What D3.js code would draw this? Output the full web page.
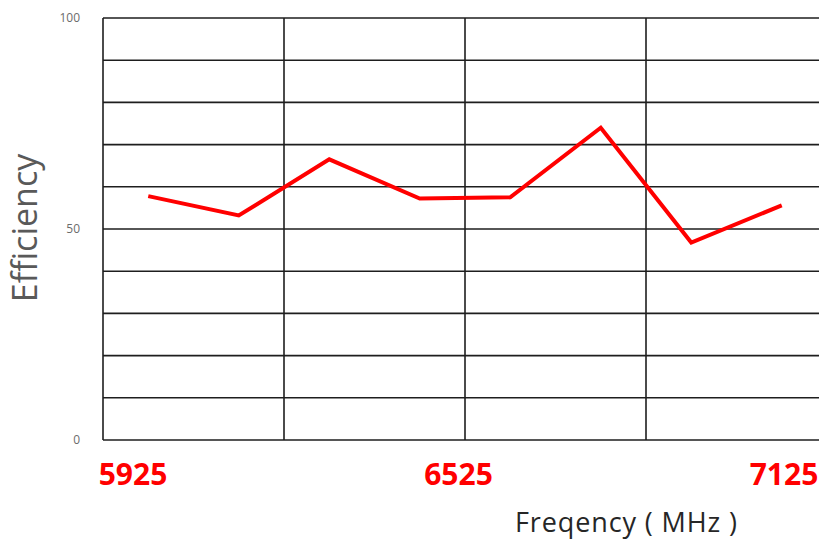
<!DOCTYPE html>
<html>
<head>
<meta charset="utf-8">
<script src="https://cdn.jsdelivr.net/npm/d3@7"></script>
<style>
  html, body { margin: 0; padding: 0; background: #fff; overflow: hidden; }
  svg { display: block; }
</style>
</head>
<body>
<svg id="chart" width="819" height="540"></svg>
<script>
// ---- data ----
const pointIndex = [1, 2, 3, 4, 5, 6, 7, 8];
const efficiency = [57.8, 53.2, 66.5, 57.2, 57.5, 74.0, 46.8, 55.6];
const yTicks = [0, 50, 100];
const yGrid = [0, 10, 20, 30, 40, 50, 60, 70, 80, 90, 100];
const freqLabels = [5925, 6525, 7125];
const yTitle = "Efficiency";
const xTitle = "Freqency ( MHz )";

(function () {
  const svg = d3.select("#chart");
  const mLeft = 103, mRight = 827, mTop = 18, mBottom = 440;

  const x = d3.scaleBand().domain(pointIndex).range([mLeft, mRight]).paddingInner(0).paddingOuter(0);
  const y = d3.scaleLinear().domain([0, 100]).range([mBottom, mTop]);
  const fx = d3.scaleLinear().domain([5925, 7125]).range([133, 784]);

  const grid = svg.append("g").attr("stroke", "#1e1e1e").attr("stroke-width", 1.6).attr("fill", "none");
  grid.selectAll("line.h").data(yGrid).join("line")
    .attr("class", "h")
    .attr("x1", mLeft).attr("x2", mRight)
    .attr("y1", d => y(d)).attr("y2", d => y(d));
  const vIdx = pointIndex.filter((d, i) => i % 2 === 0);
  grid.selectAll("line.v").data(vIdx).join("line")
    .attr("class", "v")
    .attr("x1", d => x(d)).attr("x2", d => x(d))
    .attr("y1", y(100)).attr("y2", y(0));

  svg.append("g").selectAll("text").data(yTicks).join("text")
    .attr("x", mLeft - 23)
    .attr("y", d => y(d))
    .attr("dy", "0.35em")
    .attr("text-anchor", "end")
    .attr("font-family", "'Open Sans', 'Noto Sans', sans-serif")
    .attr("font-size", 12)
    .attr("fill", "#6b6b6b")
    .text(d => d);

  const line = d3.line()
    .x((d, i) => x(pointIndex[i]) + x.bandwidth() / 2)
    .y(d => y(d));
  svg.append("path")
    .datum(efficiency)
    .attr("d", line)
    .attr("fill", "none")
    .attr("stroke", "#ff0000")
    .attr("stroke-width", 4)
    .attr("stroke-linejoin", "miter");

  svg.append("g").selectAll("text").data(freqLabels).join("text")
    .attr("x", d => fx(d))
    .attr("y", 485)
    .attr("text-anchor", "middle")
    .attr("font-family", "'Open Sans', 'Noto Sans', sans-serif")
    .attr("font-weight", "bold")
    .attr("font-size", 30)
    .attr("fill", "#ff0000")
    .text(d => d);

  svg.append("text")
    .attr("transform", `translate(37, ${(y(0) + y(100)) / 2 - 1}) rotate(-90)`)
    .attr("text-anchor", "middle")
    .attr("font-family", "'Open Sans', 'Noto Sans', sans-serif")
    .attr("font-size", 34)
    .attr("fill", "#595959")
    .text(yTitle);

  svg.append("text")
    .attr("x", 626)
    .attr("y", 532)
    .attr("text-anchor", "middle")
    .attr("font-family", "'Open Sans', 'Noto Sans', sans-serif")
    .attr("font-size", 27)
    .attr("fill", "#262626")
    .attr("textLength", 222)
    .attr("lengthAdjust", "spacing")
    .text(xTitle);
})();
</script>
</body>
</html>
